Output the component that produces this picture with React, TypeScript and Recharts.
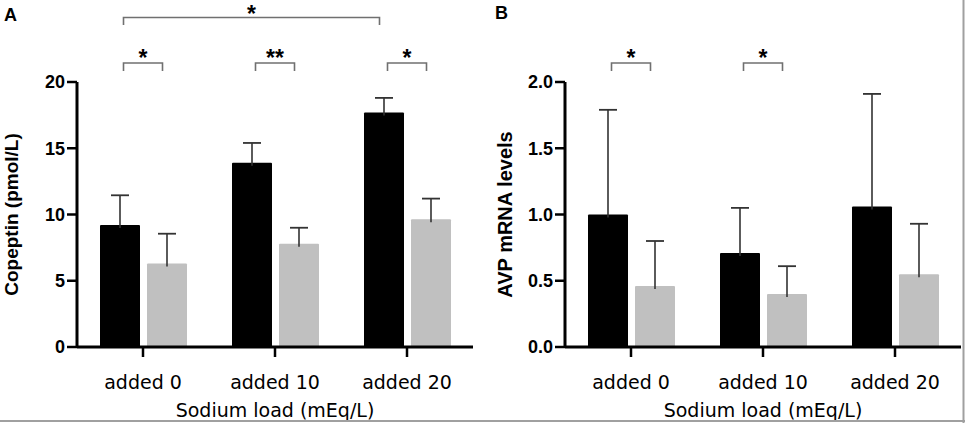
import { BarChart, Bar, XAxis, YAxis } from 'recharts'

const categories = ['added 0', 'added 10', 'added 20']

// panel A: copeptin (pmol/L)
const copeptinBlack = [9.2, 13.9, 17.7]
const copeptinBlackSe = [2.25, 1.5, 1.1]
const copeptinGray = [6.3, 7.8, 9.65]
const copeptinGraySe = [2.25, 1.2, 1.55]
const copeptinTicks = [0, 5, 10, 15, 20]

// panel B: AVP mRNA levels
const avpBlack = [1.0, 0.71, 1.06]
const avpBlackSe = [0.79, 0.34, 0.85]
const avpGray = [0.46, 0.4, 0.55]
const avpGraySe = [0.34, 0.21, 0.38]
const avpTicks = [0, 0.5, 1, 1.5, 2]

const copeptinRows = categories.map((c, i) => ({
  name: c,
  black: copeptinBlack[i],
  blackSe: copeptinBlackSe[i],
  gray: copeptinGray[i],
  graySe: copeptinGraySe[i],
}))

const avpRows = categories.map((c, i) => ({
  name: c,
  black: avpBlack[i],
  blackSe: avpBlackSe[i],
  gray: avpGray[i],
  graySe: avpGraySe[i],
}))

const BOLD = '"Liberation Sans", Arial, sans-serif'
const PLAIN = '"DejaVu Sans", sans-serif'

// layout constants
const TOP = 82
const BOTTOM_Y = 347
const BAR = 40
const GAP = 7

function barWithError(valueKey: string, errKey: string) {
  return (p: any) => {
    const { x, y, width, height, fill, payload } = p
    const v = payload[valueKey]
    const se = payload[errKey]
    const cx = x + width / 2
    const top = y - (se * height) / v
    return (
      <g>
        <rect x={x} y={y} width={width} height={height} fill={fill} rx={1} />
        <line x1={cx} y1={y + 3} x2={cx} y2={top} stroke="#333" strokeWidth={1.6} />
        <line x1={cx - 9} y1={top} x2={cx + 9} y2={top} stroke="#333" strokeWidth={1.8} />
      </g>
    )
  }
}

function Panel({
  rows,
  ticks,
  domain,
  fmt,
  title,
  left,
  width,
  axisX,
  plotRight,
  labelX,
  labelSize,
}: {
  rows: any[]
  ticks: number[]
  domain: [number, number]
  fmt: (v: number) => string
  title: string
  left: number
  width: number
  axisX: number
  plotRight: number
  labelX: number
  labelSize: number
}) {
  const yw = axisX - left
  return (
    <div style={{ position: 'absolute', left, top: 0 }}>
      <BarChart
        width={width}
        height={423}
        data={rows}
        margin={{ top: TOP, right: left + width - plotRight, bottom: 4, left: 0 }}
        barSize={BAR}
        barGap={GAP}
      >
        <XAxis
          dataKey="name"
          height={423 - BOTTOM_Y - 4}
          axisLine={{ stroke: '#000', strokeWidth: 3 }}
          tickLine={{ stroke: '#000', strokeWidth: 2.5 }}
          tickSize={10}
          tickMargin={19}
          tick={{ fill: '#000', fontSize: 19, fontFamily: PLAIN }}
          interval={0}
          label={{
            value: 'Sodium load (mEq/L)',
            position: 'insideBottom',
            offset: 2,
            style: { fill: '#000', fontSize: 19, fontFamily: PLAIN },
          }}
        />
        <YAxis
          width={yw}
          domain={domain}
          ticks={ticks}
          interval={0}
          tickFormatter={fmt}
          axisLine={{ stroke: '#000', strokeWidth: 3 }}
          tickLine={{ stroke: '#000', strokeWidth: 2.5 }}
          tickSize={10}
          tickMargin={2}
          tick={{ fill: '#000', fontSize: 18, fontWeight: 700, fontFamily: BOLD }}
          label={{
            value: title,
            angle: -90,
            position: 'insideLeft',
            offset: labelX,
            style: { textAnchor: 'middle', fill: '#000', fontSize: labelSize, fontWeight: 700, fontFamily: BOLD },
          }}
        />
        <Bar dataKey="black" fill="#000" isAnimationActive={false} shape={barWithError('black', 'blackSe')} />
        <Bar dataKey="gray" fill="#c0c0c0" isAnimationActive={false} shape={barWithError('gray', 'graySe')} />
      </BarChart>
    </div>
  )
}

// significance brackets, positioned from the panel layout
function barCenter(axisX: number, plotRight: number, cat: number, series: number) {
  const band = (plotRight - axisX) / categories.length
  const mid = axisX + band * (cat + 0.5)
  const half = (BAR * 2 + GAP) / 2
  return mid - half + BAR / 2 + series * (BAR + GAP)
}

function Bracket({ x1, x2, y, drop, label, ly }: { x1: number; x2: number; y: number; drop: number; label: string; ly: number }) {
  return (
    <g>
      <path d={`M${x1},${y + drop} L${x1},${y} L${x2},${y} L${x2},${y + drop}`} fill="none" stroke="#707070" strokeWidth={1.6} />
      <text x={(x1 + x2) / 2} y={ly} textAnchor="middle" fontSize={23} fontWeight={700} fontFamily={BOLD} fill="#000">
        {label}
      </text>
    </g>
  )
}

export default function App() {
  const aX = 77
  const aR = 473
  const bX = 565
  const bR = 961
  const inset = 4
  return (
    <div style={{ position: 'absolute', left: 0, top: 0, width: 965, height: 423, background: '#fff', overflow: 'hidden' }}>
      <Panel
        rows={copeptinRows}
        ticks={copeptinTicks}
        domain={[0, 20]}
        fmt={(v) => String(v)}
        title="Copeptin (pmol/L)"
        left={0}
        width={480}
        axisX={aX}
        plotRight={aR}
        labelX={11}
        labelSize={19}
      />
      <Panel
        rows={avpRows}
        ticks={avpTicks}
        domain={[0, 2]}
        fmt={(v) => v.toFixed(1)}
        title="AVP mRNA levels"
        left={490}
        width={475}
        axisX={bX}
        plotRight={bR}
        labelX={15}
        labelSize={20}
      />
      <svg width={965} height={423} style={{ position: 'absolute', left: 0, top: 0, pointerEvents: 'none' }}>
        <text x={4} y={21} fontSize={18} fontWeight={700} fontFamily={BOLD} fill="#000">A</text>
        <text x={495} y={19} fontSize={18} fontWeight={700} fontFamily={BOLD} fill="#000">B</text>
        <Bracket
          x1={barCenter(aX, aR, 0, 0) + inset}
          x2={barCenter(aX, aR, 2, 0) - inset}
          y={17.5}
          drop={7.5}
          label="*"
          ly={22}
        />
        {[0, 1, 2].map((i) => (
          <Bracket
            key={'a' + i}
            x1={barCenter(aX, aR, i, 0) + inset}
            x2={barCenter(aX, aR, i, 1) - inset}
            y={63}
            drop={8}
            label={i === 1 ? '**' : '*'}
            ly={66}
          />
        ))}
        {[0, 1].map((i) => (
          <Bracket
            key={'b' + i}
            x1={barCenter(bX, bR, i, 0) + inset}
            x2={barCenter(bX, bR, i, 1) - inset}
            y={63}
            drop={8}
            label="*"
            ly={66}
          />
        ))}
        <line x1={963.5} y1={0} x2={963.5} y2={423} stroke="#a0a0a0" strokeWidth={2} />
        <line x1={0} y1={421} x2={965} y2={421} stroke="#a0a0a0" strokeWidth={2} />
      </svg>
    </div>
  )
}
